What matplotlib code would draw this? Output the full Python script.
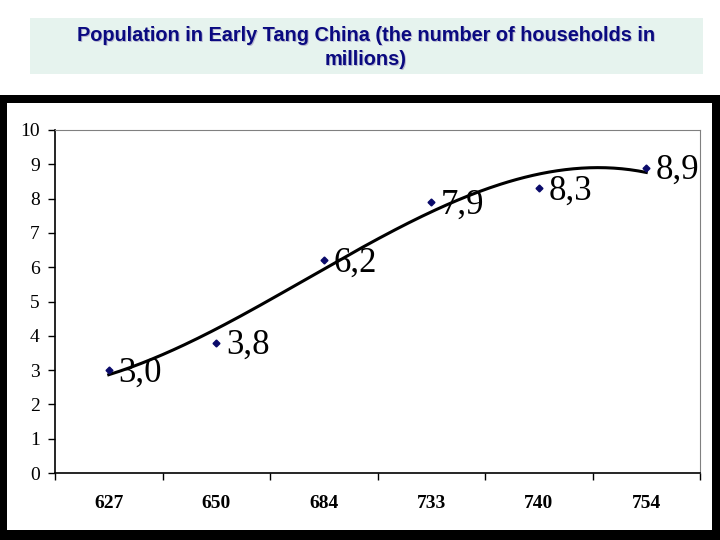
import numpy as np
import matplotlib
matplotlib.use('Agg')
from matplotlib import pyplot as plt
from matplotlib.patches import Rectangle

# data
years = ['627', '650', '684', '733', '740', '754']
households = [3.0, 3.8, 6.2, 7.9, 8.3, 8.9]
point_labels = ['3,0', '3,8', '6,2', '7,9', '8,3', '8,9']
title = 'Population in Early Tang China (the number of households in\nmillions)'

fig = plt.figure(figsize=(7.2, 5.4), dpi=100)

# black frame around the chart
fig.patches.append(Rectangle((0, 0), 1, 1 - 95 / 540, transform=fig.transFigure,
                             facecolor='black', edgecolor='none', zorder=-2))
fig.patches.append(Rectangle((7 / 720, 10 / 540), 705 / 720, 1 - 103 / 540 - 10 / 540,
                             transform=fig.transFigure, facecolor='white',
                             edgecolor='none', zorder=-1))

# title box
fig.patches.append(Rectangle((30 / 720, 1 - 74 / 540), 673 / 720, 56 / 540,
                             transform=fig.transFigure, facecolor='#e6f3ee',
                             edgecolor='none', zorder=-1))
fig.text(366 / 720 + 0.0012, 1 - 47.5 / 540 - 0.0018, title, ha='center', va='center',
         fontsize=14.3, fontweight='bold', color='#b8b8d0', family='Liberation Sans',
         linespacing=1.35)
fig.text(366 / 720, 1 - 47.5 / 540, title, ha='center', va='center',
         fontsize=14.3, fontweight='bold', color='#0a0a80', family='Liberation Sans',
         linespacing=1.35)

ax = fig.add_axes([55 / 720, 1 - 473 / 540, 645 / 720, 343 / 540])
ax.set_zorder(1)
x = np.arange(len(years))
ax.plot(x, households, linestyle='none', marker='D', markersize=3.5,
        color='#0a0a6a', zorder=3)

# polynomial trend line (order 3)
coef = np.polyfit(x, households, 3)
xs = np.linspace(x[0], x[-1], 200)
ax.plot(xs, np.polyval(coef, xs), color='black', linewidth=2.2, zorder=2)

for xi, yi, lab in zip(x, households, point_labels):
    ax.annotate(lab, (xi, yi), xytext=(7, -2), textcoords='offset points',
                ha='left', va='center', fontsize=25, family='Liberation Serif')

ax.set_xlim(-0.5, len(years) - 0.5)
ax.set_ylim(0, 10)
ax.set_yticks(range(0, 11))
ax.set_yticklabels([str(i) for i in range(0, 11)], family='Liberation Serif', fontsize=14)
ax.set_xticks(x)
ax.set_xticklabels(years, family='Liberation Serif', fontsize=14, fontweight='bold')
ax.set_xticks(np.arange(-0.5, len(years)), minor=True)
ax.tick_params(axis='x', which='major', length=0, pad=16)
ax.tick_params(axis='x', which='minor', length=5, direction='out', width=1)
ax.tick_params(axis='y', length=5, direction='out', width=1, pad=6)
for side in ['top', 'right']:
    ax.spines[side].set_color('#808080')
for side in ['left', 'bottom']:
    ax.spines[side].set_color('black')
    ax.spines[side].set_linewidth(1.2)

fig.savefig('out.png', dpi=100)
